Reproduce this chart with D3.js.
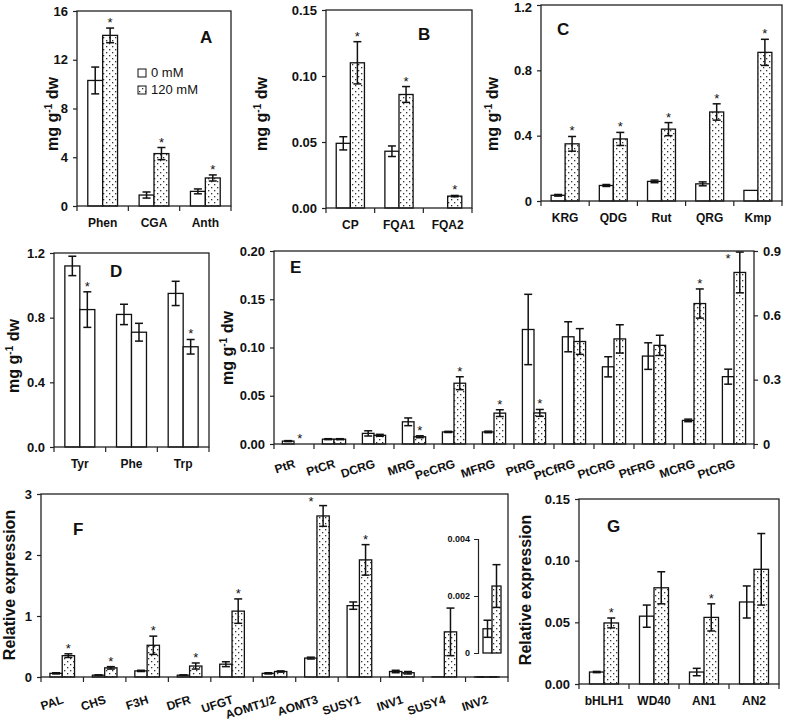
<!DOCTYPE html>
<html>
<head>
<meta charset="utf-8">
<script src="https://cdnjs.cloudflare.com/ajax/libs/d3/7.8.5/d3.min.js"></script>
<style>
  body { margin: 0; background: #fff; }
  text { font-family: "Liberation Sans", Arial, sans-serif; fill: #111; }
</style>
</head>
<body>
<div id="chart"></div>
<script>
// A - phenolics
const aCats = ['Phen', 'CGA', 'Anth'];
const aCtrl = [10.3, 0.9, 1.2];
const aCtrlErr = [1.1, 0.25, 0.2];
const aSalt = [14.0, 4.3, 2.3];
const aSaltErr = [0.6, 0.5, 0.25];
const aStar = [1, 1, 1];
const aTicks = [0, 4, 8, 12, 16];
const aTickLabels = ['0', '4', '8', '12', '16'];

// B
const bCats = ['CP', 'FQA1', 'FQA2'];
const bCtrl = [0.049, 0.043, 0];
const bCtrlErr = [0.005, 0.004, 0];
const bSalt = [0.110, 0.086, 0.009];
const bSaltErr = [0.016, 0.006, 0.0005];
const bStar = [1, 1, 1];
const bTicks = [0, 0.05, 0.10, 0.15];
const bTickLabels = ['0.00', '0.05', '0.10', '0.15'];

// C
const cCats = ['KRG', 'QDG', 'Rut', 'QRG', 'Kmp'];
const cCtrl = [0.035, 0.095, 0.12, 0.105, 0.065];
const cCtrlErr = [0.005, 0.006, 0.008, 0.012, 0];
const cSalt = [0.35, 0.38, 0.44, 0.545, 0.91];
const cSaltErr = [0.045, 0.04, 0.04, 0.05, 0.08];
const cStar = [1, 1, 1, 1, 1];
const cTicks = [0, 0.4, 0.8, 1.2];
const cTickLabels = ['0', '0.4', '0.8', '1.2'];

// D - amino acids
const dCats = ['Tyr', 'Phe', 'Trp'];
const dCtrl = [1.12, 0.82, 0.95];
const dCtrlErr = [0.06, 0.063, 0.075];
const dSalt = [0.85, 0.71, 0.62];
const dSaltErr = [0.11, 0.055, 0.045];
const dStar = [1, 0, 1];
const dTicks = [0, 0.4, 0.8, 1.2];
const dTickLabels = ['0.0', '0.4', '0.8', '1.2'];

// E - first six on left axis, rest on right axis
const eCats = ['PtR', 'PtCR', 'DCRG', 'MRG', 'PeCRG', 'MFRG', 'PtRG', 'PtCfRG', 'PtCRG', 'PtFRG', 'MCRG', 'PtCRG'];
const eSide = ['L', 'L', 'L', 'L', 'L', 'L', 'R', 'R', 'R', 'R', 'R', 'R'];
const eCtrl = [0.003, 0.005, 0.011, 0.023, 0.0125, 0.0125, 0.534, 0.50, 0.36, 0.41, 0.11, 0.314];
const eCtrlErr = [0.0005, 0.0005, 0.0027, 0.004, 0.0006, 0.0008, 0.164, 0.07, 0.047, 0.062, 0.006, 0.035];
const eSalt = [0, 0.005, 0.009, 0.0075, 0.063, 0.032, 0.145, 0.478, 0.49, 0.46, 0.655, 0.80];
const eSaltErr = [0, 0.0005, 0.001, 0.001, 0.0067, 0.0035, 0.016, 0.06, 0.066, 0.047, 0.068, 0.095];
const eStar = [1, 0, 0, 1, 1, 1, 1, 0, 0, 0, 1, 1];
const eTicks = [0, 0.05, 0.10, 0.15, 0.20];
const eTickLabels = ['0.00', '0.05', '0.10', '0.15', '0.20'];
const eRTicks = [0, 0.3, 0.6, 0.9];
const eRTickLabels = ['0', '0.3', '0.6', '0.9'];

// F - gene expression
const fCats = ['PAL', 'CHS', 'F3H', 'DFR', 'UFGT', 'AOMT1/2', 'AOMT3', 'SUSY1', 'INV1', 'SUSY4', 'INV2'];
const fCtrl = [0.06, 0.03, 0.10, 0.03, 0.21, 0.06, 0.31, 1.17, 0.09, 0.003, 0.00085];
const fCtrlErr = [0.01, 0.005, 0.01, 0.005, 0.04, 0.01, 0.015, 0.06, 0.02, 0, 0.0003];
const fSalt = [0.35, 0.15, 0.52, 0.18, 1.08, 0.09, 2.64, 1.92, 0.07, 0.74, 0.00235];
const fSaltErr = [0.03, 0.02, 0.15, 0.05, 0.2, 0.01, 0.17, 0.25, 0.02, 0.39, 0.00075];
const fStar = [1, 1, 1, 1, 1, 0, 1, 1, 0, 0, 0];
const fTicks = [0, 1, 2, 3];
const fTickLabels = ['0', '1', '2', '3'];
const insetTicks = [0, 0.002, 0.004];
const insetTickLabels = ['0', '0.002', '0.004'];

// G
const gCats = ['bHLH1', 'WD40', 'AN1', 'AN2'];
const gCtrl = [0.0097, 0.055, 0.0097, 0.0665];
const gCtrlErr = [0.0005, 0.009, 0.003, 0.013];
const gSalt = [0.0495, 0.078, 0.054, 0.093];
const gSaltErr = [0.004, 0.013, 0.011, 0.029];
const gStar = [1, 0, 1, 0];
const gTicks = [0, 0.05, 0.10, 0.15];
const gTickLabels = ['0.00', '0.05', '0.10', '0.15'];

const legendLabels = ['0 mM', '120 mM'];

const svg = d3.select('#chart').append('svg')
    .attr('width', 789)
    .attr('height', 724);

const pat = svg.append('defs').append('pattern')
    .attr('id', 'dots')
    .attr('patternUnits', 'userSpaceOnUse')
    .attr('width', 6)
    .attr('height', 6);
pat.append('rect').attr('width', 6).attr('height', 6).attr('fill', '#fff');
pat.append('rect').attr('x', 1).attr('y', 1).attr('width', 1.3).attr('height', 1.3).attr('fill', '#333');
pat.append('rect').attr('x', 4).attr('y', 4).attr('width', 1.3).attr('height', 1.3).attr('fill', '#333');

function styleAxis(sel, size) {
    sel.select('.domain').remove();
    sel.selectAll('line').attr('stroke', '#222').attr('stroke-width', 1.2);
    sel.selectAll('text').attr('font-size', size).attr('font-weight', 'bold').attr('fill', '#111');
}

function errBar(g, cx, yTop, yBot) {
    g.append('line').attr('x1', cx).attr('x2', cx).attr('y1', yTop).attr('y2', yBot)
        .attr('stroke', '#111').attr('stroke-width', 1.5);
    [yTop, yBot].forEach(yy => {
        g.append('line').attr('x1', cx - 4).attr('x2', cx + 4).attr('y1', yy).attr('y2', yy)
            .attr('stroke', '#111').attr('stroke-width', 1.5);
    });
}

function drawPanel(o) {
    const g = svg.append('g');
    const n = o.cats.length;
    const x = d3.scaleBand().domain(d3.range(n)).range([o.x0, o.x1]);
    const y = d3.scaleLinear().domain(o.yDomain).range([o.y1, o.y0]);
    const yR = o.yRDomain ? d3.scaleLinear().domain(o.yRDomain).range([o.y1, o.y0]) : null;
    const ys = i => (o.side && o.side[i] === 'R') ? yR : y;
    const bw = x.step() * 0.29;

    const ya = g.append('g')
        .attr('transform', `translate(${o.x0},0)`)
        .call(d3.axisLeft(y).tickValues(o.ticks).tickFormat((d, i) => o.tickLabels[i]).tickSize(4).tickPadding(5))
        .call(s => styleAxis(s, 13));
    // keep a label that sits at the very top edge inside the picture
    ya.selectAll('text').filter(d => y(d) < 8).attr('dy', '0.5em');

    if (yR) {
        g.append('g')
            .attr('transform', `translate(${o.x1},0)`)
            .call(d3.axisRight(yR).tickValues(o.rTicks).tickFormat((d, i) => o.rTickLabels[i]).tickSize(4).tickPadding(5))
            .call(s => styleAxis(s, 13));
    }

    // category boundary ticks on x axis
    const bounds = d3.range(n).map(i => x(i)).concat([o.x1]);
    g.selectAll('.xt').data(bounds).enter().append('line')
        .attr('x1', d => d).attr('x2', d => d)
        .attr('y1', o.y1).attr('y2', o.y1 + 5)
        .attr('stroke', '#222').attr('stroke-width', 1.2);

    const rows = [];
    o.cats.forEach((c, i) => {
        rows.push({ i: i, s: 0, v: o.ctrl[i], e: o.ctrlErr[i] });
        rows.push({ i: i, s: 1, v: o.salt[i], e: o.saltErr[i] });
    });
    const bx = d => x(d.i) + x.step() / 2 - (d.s === 0 ? bw : 0);

    g.selectAll('.bar').data(rows).enter().append('rect')
        .attr('x', bx)
        .attr('y', d => ys(d.i)(d.v))
        .attr('width', bw)
        .attr('height', d => ys(d.i)(0) - ys(d.i)(d.v))
        .attr('fill', d => d.s === 1 ? o.saltFill : '#fff')
        .attr('stroke', '#111')
        .attr('stroke-width', 1.3);

    rows.filter(d => d.e > 0).forEach(d => {
        const sc = ys(d.i);
        errBar(g, bx(d) + bw / 2, sc(d.v + d.e), sc(Math.max(0, d.v - d.e)));
    });

    rows.filter(d => d.s === 1 && o.star[d.i]).forEach(d => {
        const sc = ys(d.i);
        let sx = bx(d) + bw / 2;
        let sy = sc(d.v + d.e) - 5;
        if (sy < o.y0 + 8) { sy = o.y0 + 8; sx = bx(d) - 6; }
        g.append('text').attr('x', sx).attr('y', sy + 4)
            .attr('text-anchor', 'middle').attr('font-size', 13).text('*');
    });

    // frame
    g.append('rect')
        .attr('x', o.x0).attr('y', o.y0)
        .attr('width', o.x1 - o.x0).attr('height', o.y1 - o.y0)
        .attr('fill', 'none').attr('stroke', '#222').attr('stroke-width', 1.3);

    // category labels
    if (o.rotate) {
        g.selectAll('.xl').data(o.cats).enter().append('text')
            .attr('transform', (d, i) => `translate(${x(i) + x.step() / 2 + 2},${o.y1 + o.labelDy}) rotate(-18)`)
            .attr('text-anchor', 'end')
            .attr('font-size', 12).attr('font-weight', 'bold')
            .text(d => d);
    } else {
        g.selectAll('.xl').data(o.cats).enter().append('text')
            .attr('x', (d, i) => x(i) + x.step() / 2)
            .attr('y', o.y1 + 21)
            .attr('text-anchor', 'middle')
            .attr('font-size', 12).attr('font-weight', 'bold')
            .text(d => d);
    }

    // panel letter
    g.append('text').attr('x', o.letterX).attr('y', o.letterY)
        .attr('font-size', 17).attr('font-weight', 'bold').text(o.letter);

    // y title
    const t = g.append('text')
        .attr('transform', `translate(${o.titleX},${o.titleY}) rotate(-90)`)
        .attr('text-anchor', 'middle')
        .attr('font-size', 16).attr('font-weight', 'bold');
    if (o.title === 'mass') {
        t.append('tspan').text('mg g');
        t.append('tspan').attr('font-size', 10).attr('dy', -6).text('-1');
        t.append('tspan').attr('dy', 6).text(' dw');
    } else {
        t.text(o.title);
    }
    return g;
}

drawPanel({ x0: 77, x1: 231, y0: 11, y1: 206, cats: aCats, ctrl: aCtrl, ctrlErr: aCtrlErr, salt: aSalt, saltErr: aSaltErr,
    star: aStar, yDomain: [0, 16], ticks: aTicks, tickLabels: aTickLabels, saltFill: 'url(#dots)',
    letter: 'A', letterX: 200, letterY: 43, title: 'mass', titleX: 58, titleY: 114 });

drawPanel({ x0: 326, x1: 472, y0: 10, y1: 208, cats: bCats, ctrl: bCtrl, ctrlErr: bCtrlErr, salt: bSalt, saltErr: bSaltErr,
    star: bStar, yDomain: [0, 0.15], ticks: bTicks, tickLabels: bTickLabels, saltFill: 'url(#dots)',
    letter: 'B', letterX: 418, letterY: 40, title: 'mass', titleX: 267, titleY: 114 });

drawPanel({ x0: 541, x1: 782, y0: 5, y1: 201, cats: cCats, ctrl: cCtrl, ctrlErr: cCtrlErr, salt: cSalt, saltErr: cSaltErr,
    star: cStar, yDomain: [0, 1.2], ticks: cTicks, tickLabels: cTickLabels, saltFill: 'url(#dots)',
    letter: 'C', letterX: 557, letterY: 35, title: 'mass', titleX: 498, titleY: 114 });

drawPanel({ x0: 54, x1: 209, y0: 253, y1: 447, cats: dCats, ctrl: dCtrl, ctrlErr: dCtrlErr, salt: dSalt, saltErr: dSaltErr,
    star: dStar, yDomain: [0, 1.2], ticks: dTicks, tickLabels: dTickLabels, saltFill: '#fff',
    letter: 'D', letterX: 110, letterY: 277, title: 'mass', titleX: 19, titleY: 356 });

drawPanel({ x0: 274, x1: 754, y0: 251, y1: 444, cats: eCats, side: eSide, ctrl: eCtrl, ctrlErr: eCtrlErr, salt: eSalt, saltErr: eSaltErr,
    star: eStar, yDomain: [0, 0.2], ticks: eTicks, tickLabels: eTickLabels, yRDomain: [0, 0.9], rTicks: eRTicks, rTickLabels: eRTickLabels,
    saltFill: 'url(#dots)', rotate: true, labelDy: 23,
    letter: 'E', letterX: 290, letterY: 273, title: 'mass', titleX: 233, titleY: 348 });

drawPanel({ x0: 41, x1: 508, y0: 494, y1: 677, cats: fCats, ctrl: fCtrl, ctrlErr: fCtrlErr, salt: fSalt, saltErr: fSaltErr,
    star: fStar, yDomain: [0, 3], ticks: fTicks, tickLabels: fTickLabels, saltFill: 'url(#dots)', rotate: true, labelDy: 26,
    letter: 'F', letterX: 73, letterY: 535, title: 'Relative expression', titleX: 15, titleY: 585 });

drawPanel({ x0: 579, x1: 779, y0: 499, y1: 684, cats: gCats, ctrl: gCtrl, ctrlErr: gCtrlErr, salt: gSalt, saltErr: gSaltErr,
    star: gStar, yDomain: [0, 0.15], ticks: gTicks, tickLabels: gTickLabels, saltFill: 'url(#dots)',
    letter: 'G', letterX: 607, letterY: 532, title: 'Relative expression', titleX: 531, titleY: 590 });

// inset in F: INV2 on its own scale
const inv = fCats.indexOf('INV2');
const ig = svg.append('g');
const iy = d3.scaleLinear().domain([0, 0.004]).range([653, 539]);
const ix = d3.scaleBand().domain(legendLabels).range([483, 501]);
ig.append('g')
    .attr('transform', 'translate(478,0)')
    .call(d3.axisLeft(iy).tickValues(insetTicks).tickFormat((d, i) => insetTickLabels[i]).tickSize(4).tickPadding(4))
    .call(s => {
        s.select('.domain').attr('stroke', '#222').attr('stroke-width', 1.2);
        s.selectAll('.tick line').attr('stroke', '#222');
        s.selectAll('text').attr('font-size', 9).attr('font-weight', 'bold').attr('fill', '#111');
    });
const insetRows = [
    { k: legendLabels[0], v: fCtrl[inv], e: fCtrlErr[inv], fill: '#fff' },
    { k: legendLabels[1], v: fSalt[inv], e: fSaltErr[inv], fill: 'url(#dots)' }
];
ig.selectAll('rect').data(insetRows).enter().append('rect')
    .attr('x', d => ix(d.k))
    .attr('y', d => iy(d.v))
    .attr('width', ix.bandwidth())
    .attr('height', d => iy(0) - iy(d.v))
    .attr('fill', d => d.fill)
    .attr('stroke', '#111').attr('stroke-width', 1.3);
insetRows.forEach(d => errBar(ig, ix(d.k) + ix.bandwidth() / 2, iy(d.v + d.e), iy(d.v - d.e)));

// legend in A
const lg = svg.append('g');
legendLabels.forEach((lab, i) => {
    lg.append('rect').attr('x', 138).attr('y', 69 + i * 17).attr('width', 8).attr('height', 8)
        .attr('fill', i === 0 ? '#fff' : 'url(#dots)').attr('stroke', '#111').attr('stroke-width', 1);
    lg.append('text').attr('x', 151).attr('y', 77 + i * 17).attr('font-size', 13).text(lab);
});
</script>
</body>
</html>
